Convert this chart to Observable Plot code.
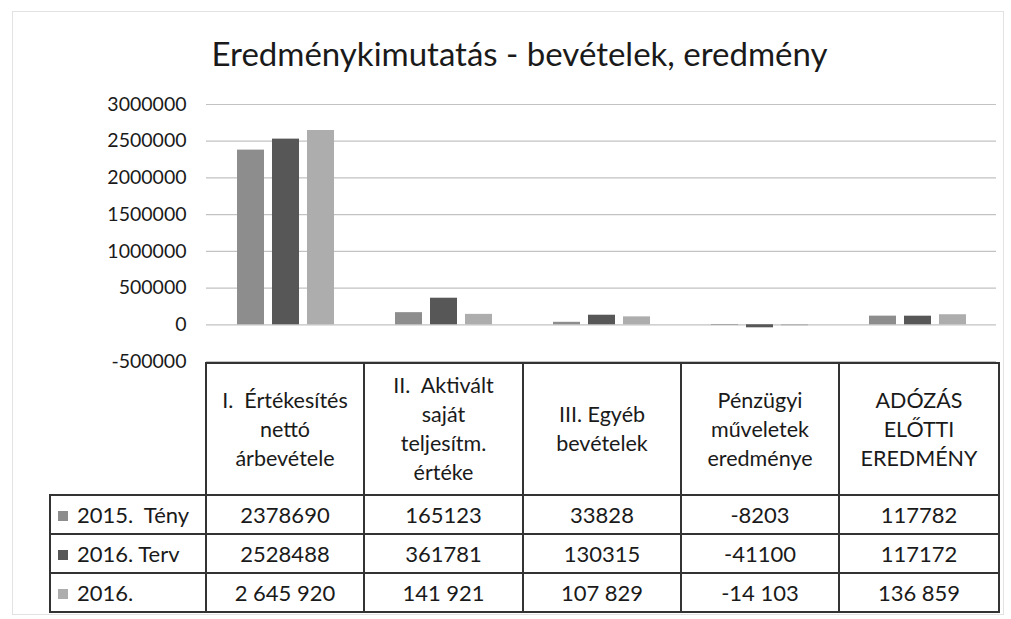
<!DOCTYPE html>
<html><head><meta charset="utf-8">
<script src="https://cdn.jsdelivr.net/npm/d3@7"></script>
<script src="https://cdn.jsdelivr.net/npm/@observablehq/plot@0.6"></script>
<style>
html,body{margin:0;padding:0;background:#fff;}
#wrap{position:relative;width:1011px;height:619px;overflow:hidden;font-family:Lato,"Open Sans",sans-serif;color:#111;}
#frame{position:absolute;left:12px;top:11px;width:990px;height:602px;border:1px solid #e2e2e2;}
#title{position:absolute;left:0;top:33px;width:1039px;text-align:center;font-size:33px;line-height:40px;color:#1a1a1a;}
#chart{position:absolute;left:0;top:0;}
table{position:absolute;left:49px;top:362px;width:949px;table-layout:fixed;border-collapse:collapse;font-size:22px;color:#1a1a1a;}
td{border:2px solid #333;text-align:center;padding:0;white-space:nowrap;overflow:hidden;}
td.hdr{height:130px;line-height:29px;font-size:21.5px;white-space:pre;}
td.num{height:37px;}
td.blank{border:none;}
td.leg{text-align:left;padding-left:7px;white-space:pre;}
.sw{display:inline-block;width:10px;height:10px;margin-right:9px;vertical-align:2px;}
</style></head>
<body><div id="wrap"><div id="frame"></div><div id="title">Eredménykimutatás - bevételek, eredmény</div><div id="chart"></div></div>
<script>
const categories = ["I. Értékesítés nettó árbevétele","II. Aktivált saját teljesítm. értéke","III. Egyéb bevételek","Pénzügyi műveletek eredménye","ADÓZÁS ELŐTTI EREDMÉNY"];
const categoryLines = [["I.  Értékesítés","nettó","árbevétele"],["II.  Aktivált","saját","teljesítm.","értéke"],["III. Egyéb","bevételek"],["Pénzügyi","műveletek","eredménye"],["ADÓZÁS","ELŐTTI","EREDMÉNY"]];
const series = ["2015.  Tény","2016. Terv","2016."];
const colors = ["#8d8d8d","#575757","#adadad"];
const tenyValues = [2378690,165123,33828,-8203,117782];
const tervValues = [2528488,361781,130315,-41100,117172];
const v2016Values = [2645920,141921,107829,-14103,136859];
const yTicks = [-500000,0,500000,1000000,1500000,2000000,2500000,3000000];

const seriesValues = [tenyValues,tervValues,v2016Values];
const data = [];
categories.forEach((c,i)=>series.forEach((s,j)=>data.push({cat:c,ser:s,val:seriesValues[j][i]})));

const chart = Plot.plot({
  width:1011, height:372,
  marginTop:104, marginBottom:11, marginLeft:205, marginRight:14,
  style:{fontFamily:"Lato, 'Open Sans', sans-serif", fontSize:"19px", color:"#1a1a1a", background:"transparent"},
  fx:{domain:categories, paddingInner:0, paddingOuter:0, axis:null},
  x:{domain:series, paddingInner:0.23, paddingOuter:0.87, axis:null},
  y:{domain:[-500000,3000000], ticks:yTicks, tickFormat:d=>String(d), tickSize:0, tickPadding:20, label:null},
  color:{domain:series, range:colors},
  marks:[
    Plot.gridY(yTicks,{stroke:"#c2c2c2", strokeOpacity:1, strokeWidth:1.2}),
    Plot.barY(data,{fx:"cat", x:"ser", y:"val", fill:"ser"}),
    Plot.axisY({ticks:yTicks, tickFormat:d=>String(d), tickSize:0, tickPadding:20, fontSize:19.5, label:null})
  ]
});
document.getElementById("chart").appendChild(chart);

const spaced = d3.formatLocale({decimal:",", thousands:" ", grouping:[3], currency:["",""], minus:"-"}).format(",d");
const fmts = [d=>String(d), d=>String(d), spaced];
const colWidths = [156,158,159,158,158,160];
const tbl = document.createElement("table");
let cg = '<colgroup>' + colWidths.map(w=>'<col style="width:'+w+'px">').join('') + '</colgroup>';
let hdr = '<tr><td class="blank"></td>';
categoryLines.forEach(lines=>{hdr += '<td class="hdr">'+lines.join("\n")+'</td>';});
hdr += '</tr>';
let body = '';
series.forEach((s,j)=>{
  body += '<tr><td class="num leg"><span class="sw" style="background:'+colors[j]+'"></span>'+s+'</td>';
  seriesValues[j].forEach(v=>{body += '<td class="num">'+fmts[j](v)+'</td>';});
  body += '</tr>';
});
tbl.innerHTML = cg+hdr+body;
document.getElementById("wrap").appendChild(tbl);
</script></body></html>
